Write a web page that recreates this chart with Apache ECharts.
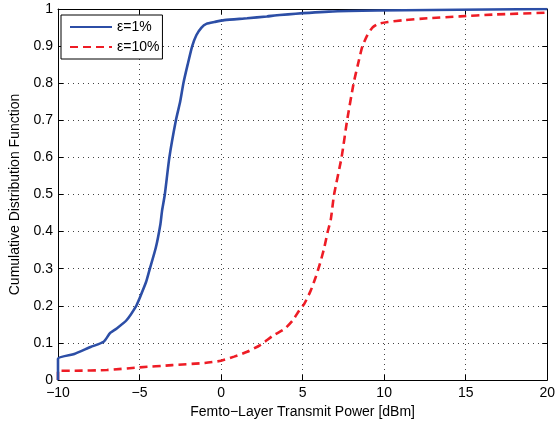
<!DOCTYPE html>
<html>
<head>
<meta charset="utf-8">
<script src="https://cdn.jsdelivr.net/npm/echarts@6/dist/echarts.min.js"></script>
<style>
  html, body { margin: 0; padding: 0; background: #fff; }
  #chart { width: 558px; height: 424px; }
</style>
</head>
<body>
<div id="chart"></div>
<script>
// eps = 1% curve
const blueX = [-10, -10, -9, -8, -7.2, -6.8, -6.4, -5.8, -5.2, -5, -4.6, -4.4, -4.0, -3.72, -3.62, -3.45, -3.17, -2.77, -2.51, -2.31, -2.05, -1.77, -1.51, -1.2, -0.9, -0.4, 0.2, 1.6, 2.8, 3.6, 6.6, 9.6, 20];
const blueY = [0, 0.057, 0.07, 0.089, 0.103, 0.127, 0.139, 0.161, 0.2, 0.22, 0.264, 0.295, 0.357, 0.42, 0.456, 0.5, 0.6, 0.7, 0.75, 0.8, 0.85, 0.9, 0.93, 0.95, 0.96, 0.965, 0.97, 0.975, 0.98, 0.984, 0.993, 0.996, 1.0];
// eps = 10% curve
const redX = [-10, -10, -9, -7, -5, -3, -1, 0, 0.8, 1.6, 2.4, 3.2, 3.9, 4.4, 4.8, 5.1, 5.5, 5.8, 6.06, 6.33, 6.53, 6.73, 6.93, 7.39, 7.73, 8.13, 8.39, 8.67, 8.98, 9.28, 9.64, 10.24, 11.24, 12.65, 14.65, 16.66, 20];
const redY = [0, 0.025, 0.025, 0.027, 0.034, 0.04, 0.046, 0.052, 0.063, 0.076, 0.094, 0.12, 0.138, 0.161, 0.188, 0.205, 0.241, 0.277, 0.313, 0.357, 0.398, 0.433, 0.5, 0.6, 0.7, 0.8, 0.85, 0.9, 0.93, 0.95, 0.96, 0.965, 0.97, 0.975, 0.98, 0.985, 0.99];
const seriesNames = ["ε=1%", "ε=10%"];

const zip = (xs, ys) => xs.map((x, i) => [x, ys[i]]);
const font = "Liberation Sans";
const gridLine = { show: true, lineStyle: { color: "#444", width: 1, type: [1, 4] } };
const frame = { show: true, onZero: false, lineStyle: { color: "#000", width: 1 } };
const ticks = { show: true, inside: true, length: 5, lineStyle: { color: "#000" } };

const chart = echarts.init(document.getElementById("chart"));
chart.setOption({
  animation: false,
  grid: { left: 54, right: 6, top: 9, bottom: 42 },
  legend: {
    left: 61, top: 15, orient: "vertical",
    padding: [5, 3, 5, 8],
    itemGap: 6,
    itemWidth: 42, itemHeight: 14,
    borderColor: "#000", borderWidth: 1,
    backgroundColor: "#fff",
    itemStyle: { opacity: 0 },
    textStyle: { fontFamily: font, fontSize: 14, color: "#000" },
    data: seriesNames
  },
  xAxis: [{
    type: "value", min: -10, max: 20, interval: 5,
    axisLine: frame, axisTick: ticks,
    axisLabel: { fontFamily: font, fontSize: 14, color: "#000", margin: 6,
      formatter: v => String(v).replace("-", "\u2212") },
    splitLine: gridLine,
    name: "Femto\u2212Layer Transmit Power [dBm]",
    nameLocation: "middle", nameGap: 25,
    nameTextStyle: { fontFamily: font, fontSize: 14, color: "#000" }
  }, {
    type: "value", min: -10, max: 20, interval: 5, position: "top",
    axisLine: frame, axisTick: ticks,
    axisLabel: { show: false }, splitLine: { show: false }
  }],
  yAxis: [{
    type: "value", min: 0, max: 1, interval: 0.1,
    axisLine: frame, axisTick: ticks,
    axisLabel: { fontFamily: font, fontSize: 14, color: "#000", margin: 5,
      formatter: v => String(Math.round(v * 10) / 10) },
    splitLine: gridLine,
    name: "Cumulative Distribution Function",
    nameLocation: "middle", nameGap: 36,
    nameTextStyle: { fontFamily: font, fontSize: 14, color: "#000" }
  }, {
    type: "value", min: 0, max: 1, interval: 0.1, position: "right",
    axisLine: frame, axisTick: ticks,
    axisLabel: { show: false }, splitLine: { show: false }
  }],
  series: [{
    name: seriesNames[0], type: "line", showSymbol: false, symbol: "none",
    data: zip(blueX, blueY), smooth: 0.2,
    lineStyle: { color: "#2c4ea6", width: 2.6 },
    itemStyle: { color: "#2c4ea6" }, z: 3
  }, {
    name: seriesNames[1], type: "line", showSymbol: false, symbol: "none",
    data: zip(redX, redY), smooth: 0.2,
    lineStyle: { color: "#ee1c25", width: 2.6, type: [8, 5] },
    itemStyle: { color: "#ee1c25" }, z: 2
  }]
});
</script>
</body>
</html>
